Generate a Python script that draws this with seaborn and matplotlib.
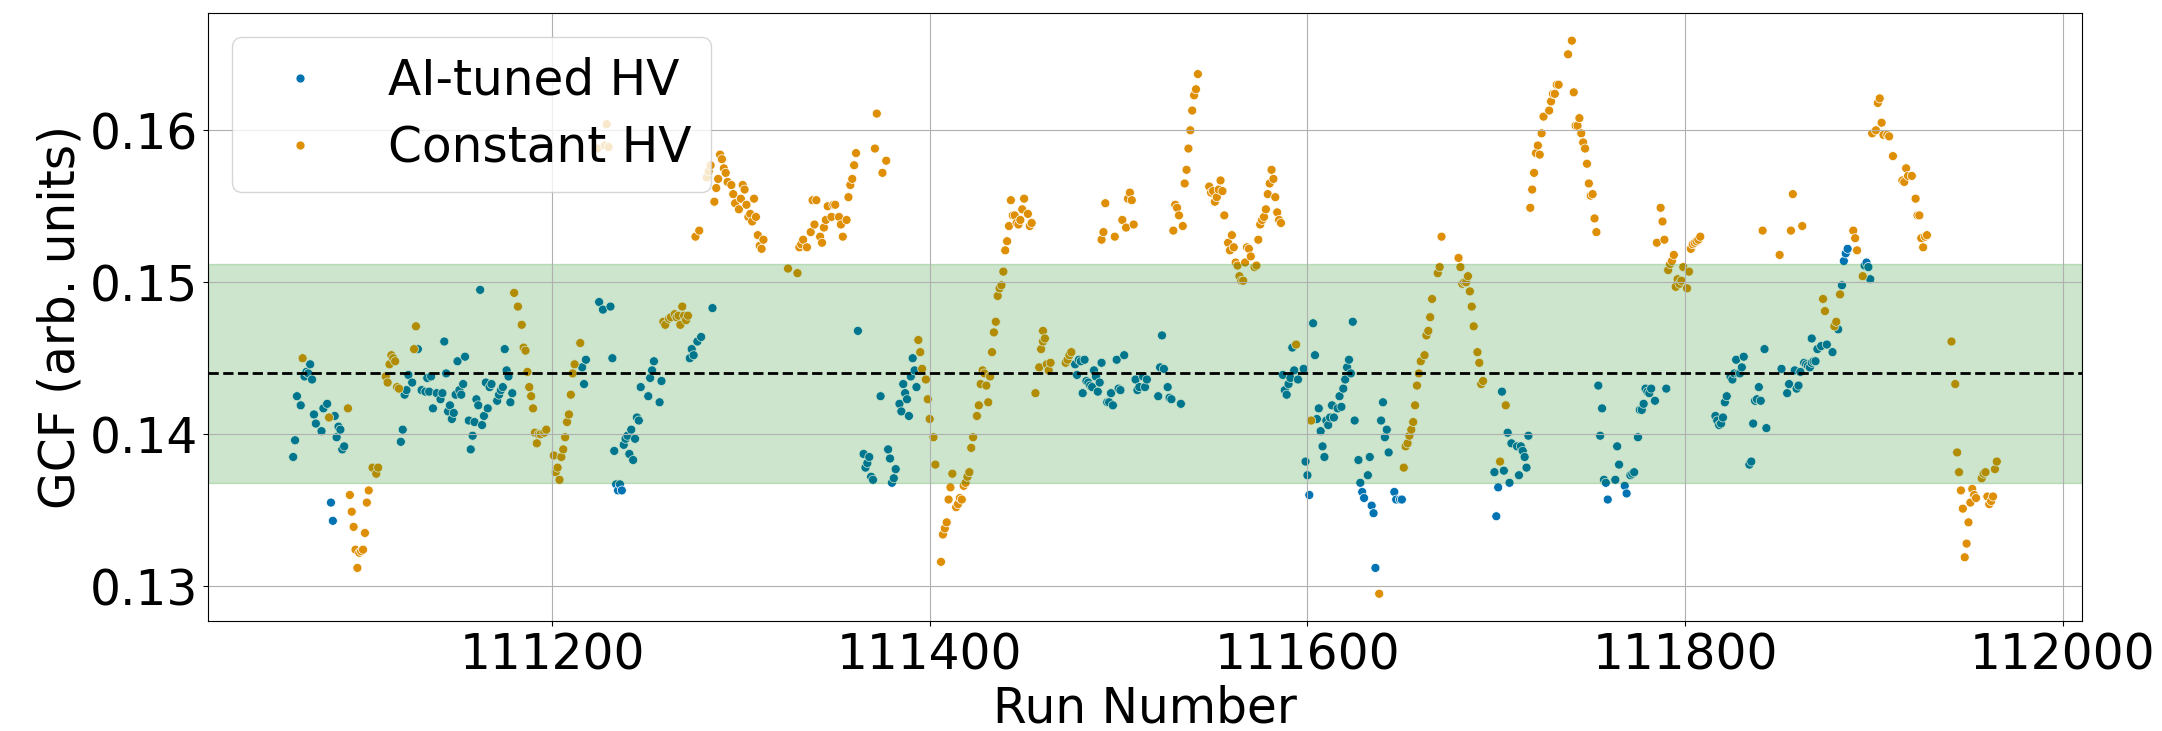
import numpy as np
import pandas as pd
import matplotlib
matplotlib.use("Agg")
import matplotlib.pyplot as plt
import seaborn as sns

# ---- data -------------------------------------------------------------
ai_runs = [
    111063, 111064, 111065, 111067, 111069, 111070, 111071, 111072, 111073, 111074,
    111075, 111078, 111079, 111081, 111083, 111084, 111085, 111086, 111087, 111088,
    111089, 111090, 111120, 111121, 111122, 111123, 111124, 111126, 111129, 111131,
    111133, 111134, 111135, 111136, 111137, 111139, 111141, 111142, 111143, 111144,
    111145, 111146, 111147, 111148, 111149, 111150, 111151, 111152, 111153, 111154,
    111156, 111157, 111158, 111159, 111160, 111161, 111162, 111163, 111164, 111165,
    111166, 111167, 111168, 111171, 111172, 111173, 111174, 111175, 111176, 111177,
    111178, 111179, 111216, 111217, 111218, 111225, 111227, 111231, 111232, 111233,
    111234, 111235, 111236, 111237, 111238, 111239, 111240, 111241, 111242, 111243,
    111244, 111245, 111246, 111247, 111251, 111252, 111253, 111254, 111257, 111258,
    111273, 111274, 111275, 111277, 111279, 111285, 111362, 111365, 111366, 111367,
    111368, 111369, 111370, 111374, 111378, 111379, 111380, 111381, 111382, 111384,
    111385, 111386, 111387, 111388, 111389, 111390, 111391, 111392, 111393, 111477,
    111478, 111479, 111480, 111481, 111482, 111483, 111484, 111485, 111486, 111487,
    111488, 111489, 111490, 111491, 111494, 111495, 111496, 111497, 111499, 111500,
    111501, 111503, 111509, 111510, 111511, 111513, 111514, 111515, 111521, 111522,
    111523, 111524, 111526, 111527, 111528, 111533, 111587, 111588, 111589, 111590,
    111591, 111592, 111593, 111595, 111598, 111599, 111600, 111601, 111603, 111604,
    111605, 111606, 111607, 111608, 111609, 111610, 111611, 111612, 111613, 111614,
    111616, 111617, 111618, 111619, 111620, 111621, 111622, 111623, 111624, 111625,
    111627, 111628, 111629, 111630, 111632, 111633, 111634, 111635, 111636, 111639,
    111640, 111641, 111642, 111643, 111646, 111647, 111649, 111650, 111699, 111700,
    111701, 111703, 111704, 111706, 111707, 111708, 111711, 111712, 111713, 111714,
    111715, 111716, 111717, 111754, 111755, 111756, 111757, 111758, 111759, 111763,
    111764, 111765, 111768, 111769, 111771, 111772, 111773, 111775, 111776, 111777,
    111778, 111779, 111780, 111781, 111782, 111784, 111790, 111816, 111817, 111818,
    111819, 111820, 111821, 111822, 111824, 111825, 111826, 111827, 111828, 111829,
    111830, 111831, 111834, 111835, 111836, 111837, 111838, 111839, 111840, 111842,
    111843, 111851, 111854, 111855, 111858, 111859, 111860, 111861, 111863, 111864,
    111865, 111866, 111867, 111867, 111868, 111869, 111870, 111872, 111875, 111878,
    111881, 111883, 111884, 111885, 111886, 111895, 111896, 111897, 111898,
]
ai_gcf = [
    0.1385, 0.1396, 0.1425, 0.1419, 0.1438, 0.1441, 0.1440, 0.1446, 0.1436, 0.1413,
    0.1407, 0.1402, 0.1417, 0.1420, 0.1355, 0.1343, 0.1412, 0.1398, 0.1405, 0.1403,
    0.1390, 0.1392, 0.1395, 0.1403, 0.1426, 0.1429, 0.1439, 0.1434, 0.1456, 0.1429,
    0.1428, 0.1437, 0.1428, 0.1438, 0.1417, 0.1427, 0.1423, 0.1427, 0.1461, 0.1440,
    0.1415, 0.1419, 0.1410, 0.1414, 0.1426, 0.1448, 0.1429, 0.1426, 0.1433, 0.1451,
    0.1409, 0.1390, 0.1399, 0.1408, 0.1423, 0.1419, 0.1495, 0.1406, 0.1412, 0.1434,
    0.1417, 0.1431, 0.1433, 0.1422, 0.1426, 0.1429, 0.1431, 0.1456, 0.1442, 0.1438,
    0.1421, 0.1427, 0.1444, 0.1433, 0.1449, 0.1487, 0.1482, 0.1484, 0.1450, 0.1389,
    0.1367, 0.1363, 0.1367, 0.1363, 0.1393, 0.1397, 0.1399, 0.1387, 0.1403, 0.1383,
    0.1397, 0.1411, 0.1409, 0.1431, 0.1425, 0.1437, 0.1442, 0.1448, 0.1421, 0.1435,
    0.1450, 0.1456, 0.1452, 0.1461, 0.1464, 0.1483, 0.1468, 0.1387, 0.1378, 0.1381,
    0.1385, 0.1372, 0.1370, 0.1425, 0.1390, 0.1384, 0.1368, 0.1371, 0.1377, 0.1420,
    0.1415, 0.1433, 0.1427, 0.1423, 0.1412, 0.1438, 0.1450, 0.1442, 0.1431, 0.1446,
    0.1439, 0.1449, 0.1448, 0.1427, 0.1449, 0.1435, 0.1434, 0.1432, 0.1431, 0.1442,
    0.1438, 0.1428, 0.1434, 0.1447, 0.1421, 0.1421, 0.1427, 0.1419, 0.1449, 0.1430,
    0.1429, 0.1452, 0.1436, 0.1429, 0.1431, 0.1438, 0.1431, 0.1436, 0.1425, 0.1444,
    0.1465, 0.1443, 0.1431, 0.1424, 0.1423, 0.1420, 0.1439, 0.1429, 0.1426, 0.1433,
    0.1437, 0.1457, 0.1442, 0.1436, 0.1443, 0.1382, 0.1373, 0.1360, 0.1473, 0.1452,
    0.1410, 0.1417, 0.1402, 0.1392, 0.1385, 0.1409, 0.1406, 0.1411, 0.1419, 0.1411,
    0.1417, 0.1425, 0.1418, 0.1430, 0.1436, 0.1444, 0.1449, 0.1440, 0.1474, 0.1409,
    0.1383, 0.1368, 0.1362, 0.1358, 0.1373, 0.1385, 0.1353, 0.1348, 0.1312, 0.1409,
    0.1421, 0.1398, 0.1403, 0.1388, 0.1362, 0.1357, 0.1357, 0.1357, 0.1375, 0.1346,
    0.1365, 0.1428, 0.1376, 0.1401, 0.1368, 0.1394, 0.1392, 0.1373, 0.1392, 0.1389,
    0.1385, 0.1378, 0.1399, 0.1432, 0.1399, 0.1417, 0.1370, 0.1368, 0.1357, 0.1370,
    0.1392, 0.1380, 0.1366, 0.1361, 0.1373, 0.1374, 0.1375, 0.1398, 0.1416, 0.1416,
    0.1420, 0.1430, 0.1428, 0.1427, 0.1430, 0.1422, 0.1430, 0.1412, 0.1409, 0.1406,
    0.1407, 0.1411, 0.1421, 0.1425, 0.1438, 0.1436, 0.1440, 0.1449, 0.1440, 0.1440,
    0.1444, 0.1451, 0.1380, 0.1382, 0.1407, 0.1422, 0.1423, 0.1431, 0.1422, 0.1456,
    0.1404, 0.1443, 0.1427, 0.1433, 0.1442, 0.1430, 0.1432, 0.1441, 0.1447, 0.1446,
    0.1445, 0.1444, 0.1447, 0.1463, 0.1448, 0.1448, 0.1456, 0.1458, 0.1459, 0.1454,
    0.1469, 0.1498, 0.1514, 0.1519, 0.1522, 0.1511, 0.1513, 0.1510, 0.1502,
]

const_runs = [
    111068, 111082, 111092, 111093, 111094, 111095, 111096, 111097, 111098, 111099,
    111100, 111101, 111102, 111103, 111105, 111107, 111108, 111112, 111113, 111114,
    111115, 111116, 111117, 111118, 111119, 111127, 111128, 111180, 111182, 111184,
    111185, 111186, 111187, 111188, 111189, 111190, 111191, 111192, 111193, 111194,
    111196, 111197, 111201, 111202, 111203, 111204, 111205, 111206, 111207, 111208,
    111209, 111210, 111211, 111212, 111215, 111224, 111228, 111229, 111230, 111259,
    111260, 111262, 111263, 111265, 111266, 111267, 111268, 111269, 111270, 111271,
    111272, 111276, 111278, 111282, 111283, 111284, 111286, 111287, 111288, 111289,
    111290, 111291, 111292, 111293, 111295, 111296, 111297, 111299, 111300, 111301,
    111302, 111303, 111304, 111305, 111306, 111307, 111308, 111309, 111310, 111311,
    111312, 111325, 111330, 111331, 111332, 111333, 111335, 111337, 111338, 111339,
    111340, 111342, 111343, 111344, 111345, 111346, 111348, 111349, 111350, 111352,
    111353, 111354, 111356, 111357, 111358, 111359, 111360, 111361, 111371, 111372,
    111375, 111377, 111394, 111395, 111396, 111398, 111399, 111400, 111402, 111403,
    111406, 111407, 111408, 111409, 111410, 111411, 111412, 111414, 111415, 111416,
    111417, 111418, 111419, 111420, 111421, 111422, 111423, 111425, 111426, 111427,
    111428, 111429, 111430, 111431, 111432, 111433, 111434, 111435, 111436, 111437,
    111438, 111439, 111440, 111441, 111442, 111443, 111444, 111445, 111446, 111447,
    111448, 111449, 111450, 111452, 111453, 111454, 111456, 111458, 111459, 111460,
    111460, 111461, 111462, 111463, 111464, 111472, 111473, 111474, 111475, 111491,
    111492, 111493, 111498, 111502, 111504, 111505, 111506, 111507, 111508, 111529,
    111530, 111531, 111532, 111534, 111535, 111536, 111537, 111538, 111539, 111540,
    111541, 111542, 111548, 111549, 111550, 111551, 111552, 111553, 111554, 111555,
    111556, 111558, 111559, 111560, 111561, 111562, 111563, 111564, 111565, 111566,
    111567, 111568, 111569, 111570, 111572, 111573, 111574, 111575, 111576, 111577,
    111578, 111579, 111580, 111581, 111582, 111583, 111584, 111585, 111586, 111594,
    111602, 111638, 111651, 111652, 111653, 111654, 111655, 111656, 111657, 111658,
    111659, 111660, 111662, 111663, 111664, 111665, 111666, 111669, 111670, 111671,
    111680, 111681, 111682, 111683, 111684, 111685, 111686, 111687, 111688, 111690,
    111691, 111692, 111693, 111702, 111705, 111718, 111719, 111720, 111721, 111722,
    111723, 111724, 111725, 111728, 111729, 111730, 111731, 111732, 111733, 111738,
    111740, 111741, 111742, 111743, 111744, 111745, 111746, 111747, 111748, 111749,
    111750, 111751, 111752, 111753, 111785, 111787, 111788, 111789, 111791, 111792,
    111793, 111794, 111795, 111796, 111797, 111798, 111799, 111801, 111802, 111803,
    111804, 111805, 111806, 111807, 111808, 111841, 111850, 111856, 111857, 111862,
    111873, 111874, 111879, 111880, 111882, 111889, 111890, 111891, 111894, 111899,
    111901, 111902, 111903, 111904, 111905, 111907, 111908, 111910, 111915, 111916,
    111917, 111918, 111920, 111922, 111923, 111924, 111925, 111926, 111927, 111928,
    111941, 111943, 111944, 111945, 111946, 111947, 111948, 111949, 111950, 111951,
    111952, 111953, 111954, 111957, 111958, 111959, 111960, 111961, 111962, 111963,
    111964, 111965,
]
const_gcf = [
    0.1450, 0.1411, 0.1417, 0.1360, 0.1349, 0.1339, 0.1324, 0.1312, 0.1322, 0.1323,
    0.1324, 0.1335, 0.1355, 0.1363, 0.1378, 0.1374, 0.1378, 0.1438, 0.1434, 0.1446,
    0.1452, 0.1450, 0.1448, 0.1431, 0.1430, 0.1456, 0.1471, 0.1493, 0.1484, 0.1472,
    0.1457, 0.1455, 0.1441, 0.1431, 0.1425, 0.1417, 0.1401, 0.1394, 0.1400, 0.1400,
    0.1401, 0.1403, 0.1386, 0.1375, 0.1378, 0.1370, 0.1385, 0.1390, 0.1398, 0.1408,
    0.1413, 0.1426, 0.1440, 0.1446, 0.1460, 0.1588, 0.1590, 0.1604, 0.1589, 0.1474,
    0.1472, 0.1476, 0.1477, 0.1479, 0.1477, 0.1478, 0.1472, 0.1484, 0.1478, 0.1475,
    0.1478, 0.1530, 0.1534, 0.1569, 0.1573, 0.1577, 0.1553, 0.1562, 0.1568, 0.1584,
    0.1581, 0.1575, 0.1572, 0.1566, 0.1564, 0.1558, 0.1552, 0.1548, 0.1555, 0.1564,
    0.1561, 0.1551, 0.1543, 0.1545, 0.1540, 0.1555, 0.1543, 0.1531, 0.1524, 0.1522,
    0.1528, 0.1509, 0.1506, 0.1523, 0.1525, 0.1528, 0.1523, 0.1533, 0.1554, 0.1538,
    0.1554, 0.1530, 0.1526, 0.1536, 0.1541, 0.1550, 0.1543, 0.1551, 0.1551, 0.1543,
    0.1538, 0.1530, 0.1541, 0.1556, 0.1564, 0.1568, 0.1577, 0.1585, 0.1588, 0.1611,
    0.1572, 0.1580, 0.1462, 0.1454, 0.1443, 0.1436, 0.1423, 0.1410, 0.1398, 0.1380,
    0.1316, 0.1334, 0.1338, 0.1342, 0.1357, 0.1365, 0.1374, 0.1352, 0.1354, 0.1358,
    0.1357, 0.1366, 0.1368, 0.1372, 0.1375, 0.1391, 0.1398, 0.1412, 0.1419, 0.1433,
    0.1442, 0.1440, 0.1432, 0.1421, 0.1438, 0.1454, 0.1467, 0.1474, 0.1491, 0.1496,
    0.1498, 0.1507, 0.1521, 0.1527, 0.1537, 0.1554, 0.1544, 0.1544, 0.1539, 0.1538,
    0.1541, 0.1548, 0.1555, 0.1545, 0.1537, 0.1539, 0.1427, 0.1444, 0.1456, 0.1461,
    0.1468, 0.1463, 0.1446, 0.1442, 0.1447, 0.1447, 0.1449, 0.1452, 0.1454, 0.1528,
    0.1533, 0.1552, 0.1530, 0.1541, 0.1536, 0.1555, 0.1559, 0.1554, 0.1538, 0.1534,
    0.1551, 0.1549, 0.1544, 0.1537, 0.1565, 0.1574, 0.1588, 0.1600, 0.1613, 0.1623,
    0.1627, 0.1637, 0.1563, 0.1559, 0.1560, 0.1553, 0.1556, 0.1561, 0.1567, 0.1560,
    0.1544, 0.1526, 0.1521, 0.1531, 0.1523, 0.1513, 0.1511, 0.1504, 0.1501, 0.1501,
    0.1513, 0.1523, 0.1522, 0.1517, 0.1510, 0.1511, 0.1528, 0.1538, 0.1541, 0.1543,
    0.1548, 0.1558, 0.1565, 0.1574, 0.1568, 0.1556, 0.1546, 0.1541, 0.1539, 0.1459,
    0.1409, 0.1295, 0.1378, 0.1392, 0.1394, 0.1399, 0.1403, 0.1408, 0.1419, 0.1432,
    0.1440, 0.1448, 0.1452, 0.1465, 0.1468, 0.1477, 0.1489, 0.1506, 0.1510, 0.1530,
    0.1516, 0.1510, 0.1499, 0.1500, 0.1500, 0.1504, 0.1494, 0.1484, 0.1471, 0.1454,
    0.1447, 0.1433, 0.1435, 0.1382, 0.1419, 0.1549, 0.1561, 0.1572, 0.1585, 0.1590,
    0.1584, 0.1598, 0.1609, 0.1613, 0.1619, 0.1624, 0.1624, 0.1630, 0.1630, 0.1650,
    0.1659, 0.1625, 0.1603, 0.1603, 0.1608, 0.1598, 0.1592, 0.1588, 0.1578, 0.1565,
    0.1557, 0.1558, 0.1542, 0.1533, 0.1526, 0.1549, 0.1540, 0.1528, 0.1508, 0.1512,
    0.1514, 0.1518, 0.1497, 0.1502, 0.1499, 0.1501, 0.1510, 0.1496, 0.1507, 0.1522,
    0.1525, 0.1526, 0.1527, 0.1528, 0.1530, 0.1534, 0.1518, 0.1534, 0.1558, 0.1537,
    0.1489, 0.1481, 0.1471, 0.1474, 0.1492, 0.1534, 0.1529, 0.1521, 0.1504, 0.1598,
    0.1600, 0.1618, 0.1621, 0.1605, 0.1597, 0.1597, 0.1596, 0.1583, 0.1567, 0.1566,
    0.1575, 0.1570, 0.1570, 0.1555, 0.1544, 0.1544, 0.1529, 0.1523, 0.1530, 0.1531,
    0.1461, 0.1433, 0.1388, 0.1375, 0.1363, 0.1351, 0.1319, 0.1328, 0.1342, 0.1355,
    0.1364, 0.1360, 0.1358, 0.1371, 0.1374, 0.1375, 0.1359, 0.1354, 0.1356, 0.1359,
    0.1377, 0.1382,
]

series_labels = ["AI-tuned HV", "Constant HV"]
gcf_target = 0.144          # reference GCF value
tolerance_frac = 0.05       # +/- 5 % acceptance band

# ---- assemble ---------------------------------------------------------
df = pd.concat([
    pd.DataFrame({"run": ai_runs, "gcf": ai_gcf, "mode": series_labels[0]}),
    pd.DataFrame({"run": const_runs, "gcf": const_gcf, "mode": series_labels[1]}),
], ignore_index=True)

palette = sns.color_palette("colorblind")
colors = {series_labels[0]: palette[0], series_labels[1]: palette[1]}

FS = 35
fig = plt.figure(figsize=(21.62, 7.31), dpi=100)
ax = fig.add_axes([208 / 2162, 1 - 621.4 / 731, (2082 - 208) / 2162, (621.4 - 13) / 731])

sns.scatterplot(data=df, x="run", y="gcf", hue="mode", palette=colors,
                hue_order=series_labels, s=42, ax=ax)

# acceptance band and target line
ax.axhspan(gcf_target * (1 - tolerance_frac), gcf_target * (1 + tolerance_frac),
           color="green", alpha=0.2)
ax.axhline(gcf_target, color="black", linestyle="--", linewidth=2)

ax.grid(True)
ax.set_xlabel("Run Number", fontsize=FS)
ax.set_ylabel("GCF (arb. units)", fontsize=FS)
ax.tick_params(axis="both", labelsize=FS)
ax.set_xticks([111200, 111400, 111600, 111800, 112000])
ax.set_yticks([0.13, 0.14, 0.15, 0.16])

sns.move_legend(ax, "upper left", title=None, fontsize=FS, labelspacing=0.4)

fig.savefig("out.png", dpi=100)
